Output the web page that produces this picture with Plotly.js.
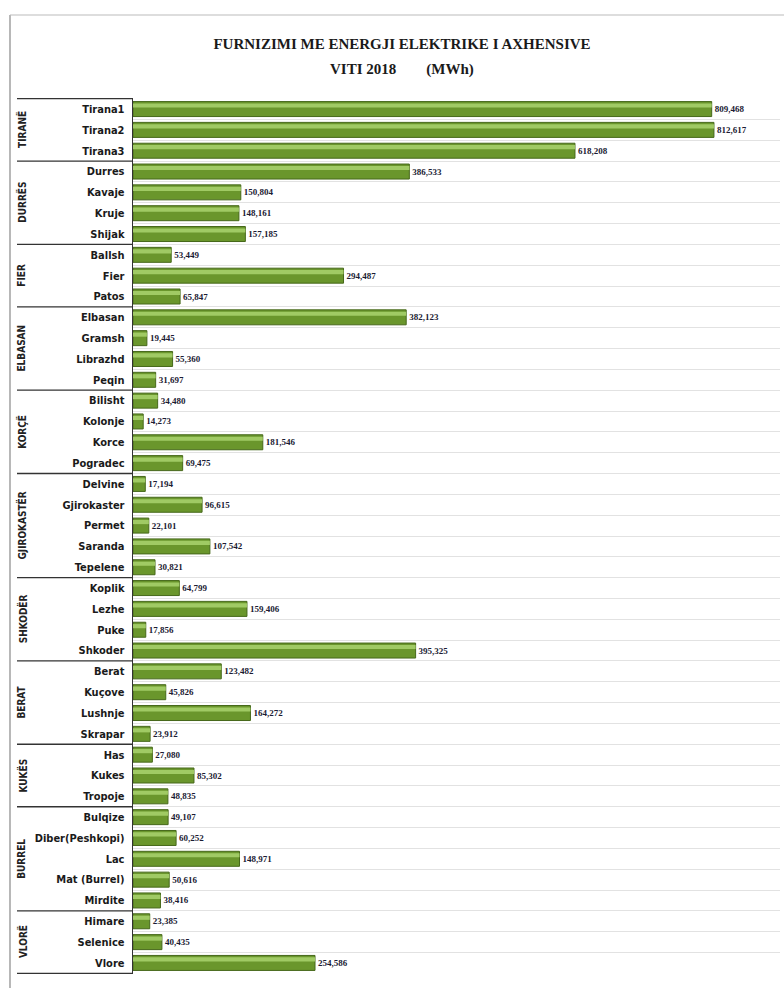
<!DOCTYPE html>
<html>
<head>
<meta charset="utf-8">
<script src="https://cdn.plot.ly/plotly-3.0.1.min.js"></script>
<style>html,body{margin:0;padding:0;background:#fff;}#chart{width:784px;height:988px;}</style>
</head>
<body>
<div id="chart"></div>
<script>
// ---- data ----
const groups = ["TIRANË","DURRËS","FIER","ELBASAN","KORÇË","GJIROKASTËR","SHKODËR","BERAT","KUKËS","BURREL","VLORË"];
const groupSizes = [3,4,3,4,4,5,4,4,3,5,3];
const categories = ["Tirana1","Tirana2","Tirana3",
  "Durres","Kavaje","Kruje","Shijak",
  "Ballsh","Fier","Patos",
  "Elbasan","Gramsh","Librazhd","Peqin",
  "Bilisht","Kolonje","Korce","Pogradec",
  "Delvine","Gjirokaster","Permet","Saranda","Tepelene",
  "Koplik","Lezhe","Puke","Shkoder",
  "Berat","Kuçove","Lushnje","Skrapar",
  "Has","Kukes","Tropoje",
  "Bulqize","Diber(Peshkopi)","Lac","Mat (Burrel)","Mirdite",
  "Himare","Selenice","Vlore"];
const values = [809468,812617,618208,
  386533,150804,148161,157185,
  53449,294487,65847,
  382123,19445,55360,31697,
  34480,14273,181546,69475,
  17194,96615,22101,107542,30821,
  64799,159406,17856,395325,
  123482,45826,164272,23912,
  27080,85302,48835,
  49107,60252,148971,50616,38416,
  23385,40435,254586];
const titleLine1 = "FURNIZIMI ME ENERGJI ELEKTRIKE I AXHENSIVE";
const titleLine2 = "VITI 2018\u00a0\u00a0\u00a0\u00a0\u00a0\u00a0\u00a0\u00a0(MWh)";

// ---- layout helpers ----
const W = 784, H = 988, mL = 133, mR = 4, mT = 98, mB = 14;
const pw = W - mL - mR, ph = H - mT - mB;
const px = x => (x - mL) / pw;         // page x -> paper x
const py = y => 1 - (y - mT) / ph;     // page y -> paper y

const shapes = [];
const annotations = [];
let start = 0;
shapes.push({type:"line", xref:"paper", yref:"y", x0:px(17), x1:0, y0:-0.5, y1:-0.5, line:{color:"#333", width:1.3}});
groups.forEach((g, i) => {
  const end = start + groupSizes[i];
  shapes.push({type:"line", xref:"paper", yref:"y", x0:px(17), x1:0, y0:end-0.5, y1:end-0.5, line:{color:"#333", width:1.3}});
  annotations.push({xref:"paper", yref:"y", x:px(22), y:(start+end-1)/2, text:"<b>"+g+"</b>", textangle:-90,
    showarrow:false, xanchor:"center", yanchor:"middle",
    font:{family:"Liberation Sans Narrow, DejaVu Sans Condensed, Arial Narrow, sans-serif", size:10, color:"#222"}});
  start = end;
});
// outer frame
shapes.push({type:"line", xref:"paper", yref:"paper", x0:px(10), x1:px(10), y0:py(H+2), y1:py(15), line:{color:"#888", width:1.2}});
shapes.push({type:"line", xref:"paper", yref:"paper", x0:px(10), x1:px(W+2), y0:py(15), y1:py(15), line:{color:"#bbb", width:1}});
// second title line
annotations.push({xref:"paper", yref:"paper", x:px(402), y:py(70), text:"<b>"+titleLine2+"</b>", showarrow:false,
  xanchor:"center", yanchor:"middle", font:{family:"Liberation Serif, Times New Roman, serif", size:15, color:"#1a1a1a"}});

const traces = [
  {type:"bar", orientation:"h", y:categories, x:values, width:0.72,
   marker:{color:"#6a962c", line:{color:"#46681a", width:1}},
   text:values, texttemplate:"<b>%{x:,}</b>", textposition:"outside", cliponaxis:false,
   textfont:{family:"Liberation Serif, Times New Roman, serif", size:9, color:"#1b1b33"},
   hoverinfo:"x+y"},
  {type:"bar", orientation:"h", y:categories, x:values, width:0.2, offset:-0.27,
   marker:{color:"#a0ca64", line:{width:0}}, hoverinfo:"skip"}
];

const layout = {
  width: W, height: H,
  margin:{l:mL, r:mR, t:mT, b:mB, pad:0},
  paper_bgcolor:"#fff", plot_bgcolor:"#fff",
  showlegend:false, barmode:"overlay",
  title:{text:"<b>"+titleLine1+"</b>", x:402/W, xanchor:"center", y:1-44/H, yanchor:"middle", yref:"container", xref:"container",
    font:{family:"Liberation Serif, Times New Roman, serif", size:15, color:"#1a1a1a"}},
  xaxis:{range:[0, 905000], showgrid:false, zeroline:false, showticklabels:false, showline:false, fixedrange:true},
  yaxis:{type:"category", autorange:"reversed", tickson:"boundaries", showgrid:true, gridcolor:"#e2e2e2", gridwidth:1,
    showline:true, linecolor:"#333", linewidth:1.3, ticks:"", ticklabelstandoff:5,
    tickfont:{family:"Liberation Sans Narrow, DejaVu Sans Condensed, Arial Narrow, sans-serif", size:11, color:"#1a1a1a", weight:"bold"},
    fixedrange:true},
  shapes: shapes,
  annotations: annotations
};

Plotly.newPlot("chart", traces, layout, {displayModeBar:false, staticPlot:true});
</script>
</body>
</html>
